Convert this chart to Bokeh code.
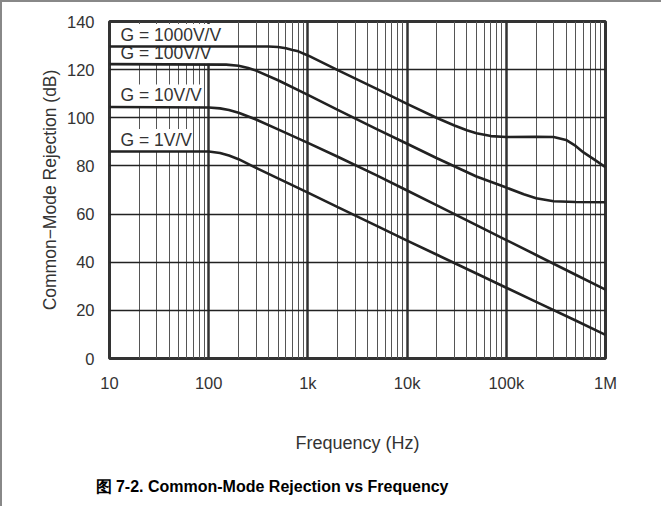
from bokeh.plotting import figure
from bokeh.models import FixedTicker, Label, Title
from bokeh.embed import file_html
from bokeh.resources import INLINE

# ---- data ----
freq_ticks = [10, 100, 1000, 10000, 100000, 1000000]
freq_tick_labels = ["10", "100", "1k", "10k", "100k", "1M"]
db_ticks = [0, 20, 40, 60, 80, 100, 120, 140]

f_g1 = [10, 100, 130, 160, 200, 300, 500, 1000, 2000, 5000, 10000, 20000, 50000, 100000, 200000, 500000, 1000000]
cmr_g1 = [86.0, 86.0, 85.4, 84.3, 82.8, 79.2, 74.8, 68.9, 62.9, 55.0, 49.0, 43.1, 35.3, 29.4, 23.5, 15.8, 9.8]

f_g10 = [10, 100, 130, 160, 200, 300, 500, 1000, 2000, 5000, 10000, 20000, 50000, 100000, 200000, 500000, 1000000]
cmr_g10 = [104.5, 104.3, 103.9, 103.2, 102.1, 99.3, 95.2, 89.6, 83.8, 76.0, 69.8, 63.6, 55.4, 49.2, 43.0, 34.8, 28.6]

f_g100 = [10, 150, 200, 250, 300, 500, 1000, 2000, 5000, 10000, 20000, 50000, 100000, 150000, 200000, 300000, 500000, 1000000]
cmr_g100 = [122.3, 122.1, 121.6, 120.7, 119.6, 115.6, 109.5, 103.3, 95.2, 89.2, 83.2, 75.6, 71.0, 68.2, 66.6, 65.3, 65.0, 64.9]

f_g1000 = [10, 400, 500, 600, 700, 800, 1000, 2000, 5000, 10000, 20000, 30000, 40000, 50000, 70000, 100000, 200000, 300000, 400000, 500000, 600000, 800000, 1000000]
cmr_g1000 = [129.6, 129.6, 129.4, 128.9, 128.2, 127.6, 125.9, 119.8, 111.9, 105.8, 99.9, 96.8, 94.8, 93.6, 92.4, 92.0, 92.1, 92.0, 90.8, 88.3, 85.6, 82.2, 79.5]

series = [
    ("G = 1V/V", f_g1, cmr_g1),
    ("G = 10V/V", f_g10, cmr_g10),
    ("G = 100V/V", f_g100, cmr_g100),
    ("G = 1000V/V", f_g1000, cmr_g1000),
]

FONT = "Liberation Sans"

p = figure(
    x_axis_type="log", x_range=(10, 1e6), y_range=(0, 140),
    frame_width=496, frame_height=337,
    min_border_left=107, min_border_right=56, min_border_top=19, min_border_bottom=142,
    output_backend="svg", toolbar_location=None,
    background_fill_color="white", border_fill_color="white",
)
p.styles = {"border-top": "2px solid #888888", "border-left": "2px solid #888888"}

minor = [d * m for d in freq_ticks[:-1] for m in range(2, 10)]
p.xaxis.ticker = FixedTicker(ticks=freq_ticks, minor_ticks=minor)
p.xaxis.major_label_overrides = {t: l for t, l in zip(freq_ticks, freq_tick_labels)}
p.yaxis.ticker = FixedTicker(ticks=db_ticks)

for ax in (p.xaxis, p.yaxis):
    ax.axis_line_color = None
    ax.major_tick_line_color = None
    ax.minor_tick_line_color = None
    ax.major_label_text_font = FONT
    ax.major_label_text_font_size = "16.5px"
    ax.major_label_text_color = "#333333"
    ax.axis_label_text_font = FONT
    ax.axis_label_text_font_size = "17.5px"
    ax.axis_label_text_font_style = "normal"
    ax.axis_label_text_color = "#333333"

p.xaxis.axis_label_text_font_size = "18px"
p.xaxis.axis_label = "Frequency (Hz)"
p.yaxis.axis_label = "Common\u2212Mode Rejection (dB)"
p.xaxis.major_label_standoff = 9
p.yaxis.major_label_standoff = 9
p.xaxis.axis_label_standoff = 38
p.yaxis.axis_label_standoff = 4

p.xgrid.grid_line_color = "#333333"
p.xgrid.grid_line_width = 2.5
p.xgrid.minor_grid_line_color = "#555555"
p.xgrid.minor_grid_line_width = 1
p.ygrid.grid_line_color = "#222222"
p.ygrid.grid_line_width = 1.3

p.outline_line_color = "#333333"
p.outline_line_width = 3

label_freq = 12.6
for name, f, c in series:
    p.line(f, c, line_color="#222222", line_width=2.6)
    lab = Label(x=label_freq, y=c[0] + 0.2, text=name, text_font=FONT,
                text_font_size="17.5px", text_color="#333333", text_baseline="bottom",
                background_fill_color="white", padding=1, level="underlay")
    p.add_layout(lab)

caption = Title(text="图 7-2. Common-Mode Rejection vs Frequency", align="left", offset=-14,
                text_font=FONT, text_font_size="16px", text_font_style="bold",
                text_color="#000000", standoff=40)
p.add_layout(caption, "below")

open("out.html", "w").write(file_html(p, INLINE))
